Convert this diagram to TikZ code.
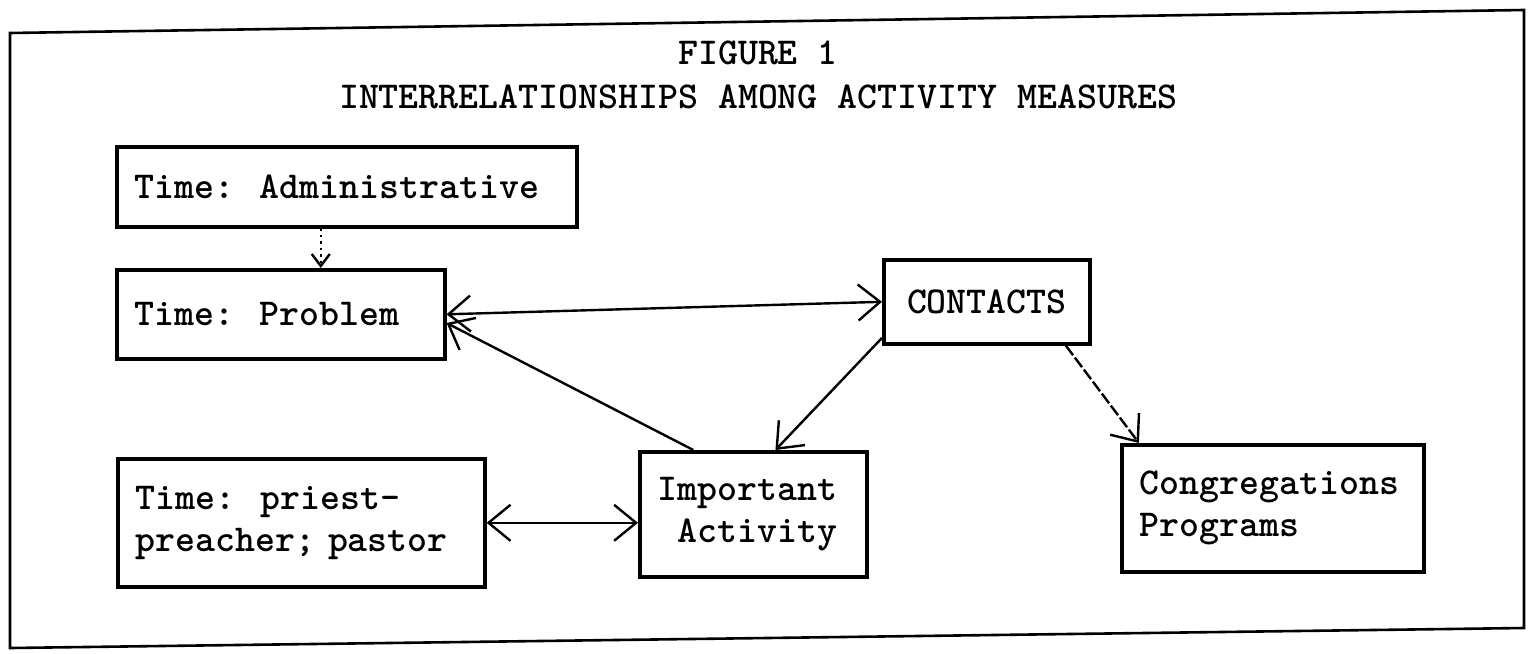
\documentclass[tikz,border=0pt]{standalone}
\usepackage{fontspec}
\usetikzlibrary{arrows.meta, positioning}

\begin{document}
\begin{tikzpicture}[x=0.5pt, y=-0.5pt,
  box/.style={draw, line width=1.8pt, anchor=north west, inner xsep=9pt, inner ysep=3pt,
    font=\ttfamily\bfseries\fontsize{19}{21}\selectfont},
  link/.style={line width=1.2pt, -{Straight Barb[length=11pt, width=18pt]}},
  twoway/.style={line width=1.2pt, {Straight Barb[length=11pt, width=18pt]}-{Straight Barb[length=11pt, width=18pt]}},
  dashlink/.style={link, dash pattern=on 6pt off 1.5pt},
  dotlink/.style={line width=1.2pt, dotted, -{Straight Barb[length=6pt, width=9pt]}}]
  \useasboundingbox (0,0) rectangle (1535,653);
  % Frame
  \draw[line width=1.3pt] (10,33) -- (1524,10) -- (1524,628) -- (10,648) -- cycle;
  % Title
  \node[font=\ttfamily\bfseries\fontsize{19}{22}\selectfont, align=center] (title) at (758,75)
    {FIGURE 1\\INTERRELATIONSHIPS AMONG ACTIVITY MEASURES};
  % Time boxes (left column)
  \node[box, text width=212pt, minimum height=40pt, align=left] (admin) at (115,145) {Time:\ \ Administrative};
  \node[box, text width=146pt, minimum height=44.5pt, align=left] (problem) at (115,268) {Time:\ \ Problem};
  \node[box, text width=165.5pt, minimum height=64pt, align=left] (priest) at (116,457) {Time:\ \ priest-\\preacher; pastor};
  % Other measures
  \node[box, text width=85pt, minimum height=42pt, align=center] (contacts) at (882,258) {CONTACTS};
  \node[box, text width=95.5pt, minimum height=62.5pt, align=left] (important) at (638,450) {Important\\\hphantom{x}Activity};
  \node[box, text width=133pt, minimum height=63.5pt, align=left] (congr) at (1120,443) {Congregations\\Programs};
  % Connections
  \draw[dotlink] ([xshift=-13pt]admin.south) -- ([xshift=20pt]problem.north);
  \draw[twoway] (problem.east) -- (contacts.west);
  \draw[link] (important.133) -- (problem.-3);
  \draw[link] (contacts.199) -- (important.71);
  \draw[dashlink] (contacts.-29) -- (congr.154);
  \draw[twoway] (priest.east) -- (important.west |- priest.east);
\end{tikzpicture}
\end{document}
